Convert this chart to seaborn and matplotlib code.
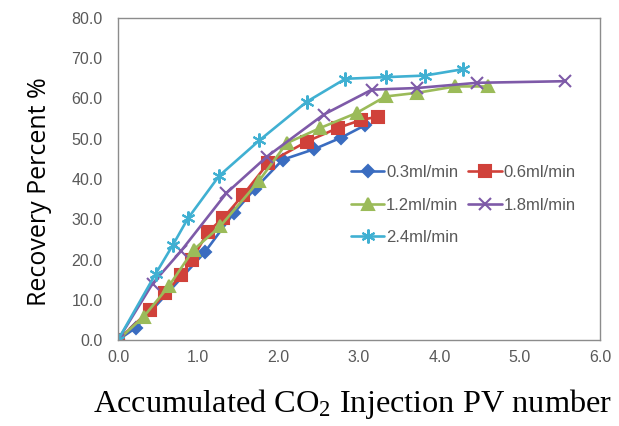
import matplotlib
matplotlib.use("Agg")
import matplotlib.pyplot as plt
import seaborn as sns
import pandas as pd

labels = ["0.3ml/min", "0.6ml/min", "1.2ml/min", "1.8ml/min", "2.4ml/min"]

x_03 = [0, 0.22, 1.08, 1.44, 1.70, 2.05, 2.44, 2.78, 3.07]
y_03 = [0, 3.0, 21.8, 31.5, 37.5, 44.8, 47.4, 50.3, 53.3]

x_06 = [0, 0.40, 0.59, 0.79, 0.92, 1.12, 1.31, 1.56, 1.87, 2.35, 2.74, 3.03, 3.24]
y_06 = [0, 7.5, 11.6, 16.2, 19.9, 26.9, 30.3, 36.1, 44.0, 49.3, 52.7, 54.7, 55.5]

x_12 = [0, 0.32, 0.63, 0.94, 1.27, 1.75, 2.10, 2.52, 2.97, 3.33, 3.72, 4.20, 4.61]
y_12 = [0, 5.8, 13.3, 22.4, 28.2, 39.4, 48.9, 52.7, 56.4, 60.5, 61.4, 63.0, 63.0]

x_18 = [0, 0.43, 0.78, 1.35, 1.85, 2.56, 3.16, 3.72, 4.47, 5.57]
y_18 = [0, 14.0, 22.0, 36.5, 45.5, 56.0, 62.2, 62.6, 63.9, 64.3]

x_24 = [0, 0.47, 0.68, 0.87, 1.26, 1.76, 2.35, 2.83, 3.33, 3.82, 4.30]
y_24 = [0, 16.5, 23.5, 30.2, 40.8, 49.6, 59.2, 64.9, 65.3, 65.7, 67.3]

xs = [x_03, x_06, x_12, x_18, x_24]
ys = [y_03, y_06, y_12, y_18, y_24]

x_ticks = [0, 1, 2, 3, 4, 5, 6]
y_ticks = [0, 10, 20, 30, 40, 50, 60, 70, 80]

colors = ["#3A6CC0", "#D0413A", "#9BBB59", "#7E5AA8", "#40B0D2"]
markers = ["D", "s", "^", "x", (6, 2, 0)]
msizes = [6, 9, 8.5, 9, 10]

sns.set_style("white")
plt.rcParams["mathtext.fontset"] = "custom"
plt.rcParams["mathtext.rm"] = "Liberation Serif"
plt.rcParams["mathtext.default"] = "regular"

fig = plt.figure(figsize=(6.19, 4.26), dpi=100)
ax = fig.add_axes([118 / 619, 1 - 340 / 426, 482 / 619, 322 / 426])

for xv, yv, lab, c, m, ms in zip(xs, ys, labels, colors, markers, msizes):
    df = pd.DataFrame({"x": xv, "y": yv})
    sns.lineplot(data=df, x="x", y="y", ax=ax, color=c, marker=m,
                 markersize=ms, markeredgecolor=c, markeredgewidth=1.5,
                 linewidth=1.9, sort=False, label=lab, estimator=None)

ax.set_xlim(0, 6)
ax.set_ylim(0, 80)
ax.set_xticks(x_ticks)
ax.set_yticks(y_ticks)
ax.set_xticklabels([f"{v:.1f}" for v in x_ticks])
ax.set_yticklabels([f"{v:.1f}" for v in y_ticks])
ax.set_xlabel("")
ax.set_ylabel("")
for s in ax.spines.values():
    s.set_color("#8C8C8C")
    s.set_linewidth(1.0)
ax.tick_params(direction="in", length=4, color="#8C8C8C", labelcolor="#595959",
               labelsize=11.5, width=1)
ax.tick_params(axis="y", pad=11)
ax.tick_params(axis="x", pad=7)
for t in ax.get_xticklabels() + ax.get_yticklabels():
    t.set_fontfamily(["Liberation Sans Narrow", "Liberation Sans", "DejaVu Sans"])

h, l = ax.get_legend_handles_labels()
order = [0, 2, 4, 1, 3]
leg = ax.legend([h[i] for i in order], [l[i] for i in order], ncol=2,
                loc="upper left", bbox_to_anchor=(0.452, 0.59), frameon=False,
                handlelength=2.0, handletextpad=0.12, columnspacing=0.6,
                labelspacing=1.05, borderpad=0.4,
                prop={"family": ["Liberation Sans Narrow", "Liberation Sans"], "size": 12})
for t in leg.get_texts():
    t.set_color("#595959")

fig.text(40 / 619, 1 - 192 / 426, "Recovery Percent %", rotation=90,
         ha="center", va="center", fontsize=18, family=["Open Sans", "DejaVu Sans"],
         color="black")
fig.text(93 / 619, 1 - 412 / 426, "Accumulated CO$_2$ Injection PV number",
         ha="left", va="baseline", fontsize=23.3, family="Liberation Serif", color="black")

fig.savefig("out.png", dpi=100)
